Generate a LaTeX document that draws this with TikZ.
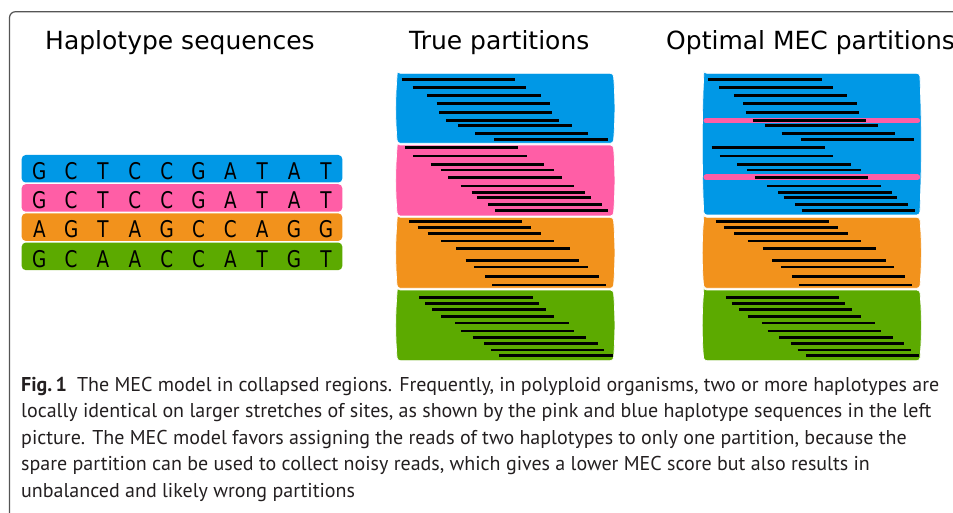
\documentclass[tikz,border=0pt]{standalone}
\usepackage{fontspec}
\setmainfont{PT Sans}
\newfontfamily\titlefont{DejaVu Sans}
\newfontfamily\basefont[FakeStretch=0.8]{DejaVu Sans}
\definecolor{hapblue}{RGB}{0,152,230}
\definecolor{happink}{RGB}{255,94,166}
\definecolor{haporange}{RGB}{242,146,28}
\definecolor{hapgreen}{RGB}{92,170,0}
\definecolor{framegray}{RGB}{85,85,85}
\definecolor{captext}{RGB}{35,31,32}

% one partition block with slightly bulging sides
\newcommand\partblock[5]{%
  \path[fill=#5, draw=white, line width=0.7, rounded corners=3]
    (#1,#2) -- (#3,#2)
    .. controls ({#3+2},{#2+(#4-#2)/3}) and ({#3+2},{#4-(#4-#2)/3}) .. (#3,#4)
    -- (#1,#4)
    .. controls ({#1-2},{#4-(#4-#2)/3}) and ({#1-2},{#2+(#4-#2)/3}) .. (#1,#2) -- cycle;}

\tikzset{
  title/.style={font=\titlefont\fontsize{25}{30}\selectfont, anchor=base west, inner sep=0pt},
  base/.style={font=\basefont\fontsize{23}{27}\selectfont, anchor=base, inner sep=0pt},
  read/.style={line width=2.8pt, black},
  stripe/.style={line width=5.8pt, happink, line cap=round},
  caption/.style={font=\fontsize{20}{24}\selectfont, text=captext, anchor=base west, inner sep=0pt},
}

% reads of the four haplotypes (start x, y); each read is 113.4 long
\newcommand\bluereads{401.7/79.3,412.7/87.3,427.3/95.7,436.7/103.7,439/112.3,446/120.3,458.3/125.7,475/133.7,494.3/139.3}
\newcommand\pinkreads{405/147.3,413.3/156,430.7/164.3,440.7/170,448.3/177.3,460.7/186,471.7/192.3,477.3/197.3,488.3/204.3,495/210.7}
\newcommand\orangereads{409/221.7,417.7/227.3,427.7/233.7,441/241,456.3/248.7,465.7/260.7,474.3/267,485.3/276.3,492.3/285}
\newcommand\greenreads{419.3/297.7,425.3/303.3,432.3/309.3,441/316.7,455.3/323,461/331,472.7/337.7,484.3/343.7,491/350,499.3/355.3}

\begin{document}
\begin{tikzpicture}[x=1pt,y=-1pt]
\useasboundingbox (0,0) rectangle (953,513);
\clip (0,0) rectangle (953,513);

% outer frame
\draw[framegray, line width=1.2pt, rounded corners=6pt] (9.5,11.7) rectangle (1000,560);

% titles
\node[title] (thap) at (45,50) {Haplotype sequences};
\node[title] (ttrue) at (409,50) {True partitions};
\node[title] (topt) at (666,50) {Optimal MEC partitions};

% haplotype sequences
\foreach \c [count=\r from 0] in {hapblue,happink,haporange,hapgreen}
  \fill[\c, rounded corners=4pt] (21.7,{155+29.2*\r}) rectangle (342.3,{182.5+29.2*\r});
\foreach \s [count=\r from 0] in {{G,C,T,C,C,G,A,T,A,T},{G,C,T,C,C,G,A,T,A,T},{A,G,T,A,G,C,C,A,G,G},{G,C,A,A,C,C,A,T,G,T}}
  \foreach \ch [count=\k from 0] in \s
    \node[base] (h\r-\k) at ({39.3+31.85*\k},{179.5+29.2*\r}) {\ch};

% true partitions
\partblock{397.3}{73.3}{613.3}{143.3}{hapblue}
\partblock{397.3}{145}{613.3}{216}{happink}
\partblock{397.3}{217.3}{613.3}{288.3}{haporange}
\partblock{397.3}{290}{613.3}{360.7}{hapgreen}
\foreach \x/\y in \bluereads {\draw[read] (\x,\y) -- ++(113.4,0);}
\foreach \x/\y in \pinkreads {\draw[read] (\x,\y) -- ++(113.4,0);}
\foreach \x/\y in \orangereads {\draw[read] (\x,\y) -- ++(113.4,0);}
\foreach \x/\y in \greenreads {\draw[read] (\x,\y) -- ++(113.4,0);}

% optimal MEC partitions: blue and pink reads merged into one partition
\begin{scope}[xshift=306.5pt]
\partblock{397.3}{73.3}{613.3}{215}{hapblue}
\partblock{397.3}{217.3}{613.3}{288.3}{haporange}
\partblock{397.3}{290}{613.3}{360.7}{hapgreen}
\draw[stripe] (399.8,120.6) -- (610.8,120.6);
\draw[stripe] (399.8,177.4) -- (610.8,177.4);
\foreach \x/\y in \bluereads {\draw[read] (\x,\y) -- ++(113.4,0);}
\foreach \x/\y in \pinkreads {\draw[read] (\x,\y) -- ++(113.4,0);}
\foreach \x/\y in \orangereads {\draw[read] (\x,\y) -- ++(113.4,0);}
\foreach \x/\y in \greenreads {\draw[read] (\x,\y) -- ++(113.4,0);}
\end{scope}

% caption
\node[caption] (cap1) at (21,391) {\textbf{Fig.\,1}\hspace{0.5em}The MEC model in collapsed regions. Frequently, in polyploid organisms, two or more haplotypes are};
\node[caption] (cap2) at (21,417.5) {locally identical on larger stretches of sites, as shown by the pink and blue haplotype sequences in the left};
\node[caption] (cap3) at (21,444) {picture. The MEC model favors assigning the reads of two haplotypes to only one partition, because the};
\node[caption] (cap4) at (21,470.5) {spare partition can be used to collect noisy reads, which gives a lower MEC score but also results in};
\node[caption] (cap5) at (21,497) {unbalanced and likely wrong partitions};
\end{tikzpicture}
\end{document}
